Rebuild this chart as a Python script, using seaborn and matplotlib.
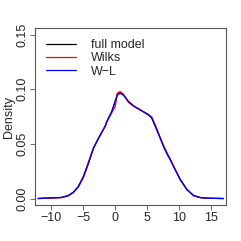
import pandas as pd
import matplotlib
matplotlib.use("Agg")
import matplotlib.pyplot as plt
import seaborn as sns

# density curves
x = [-12.0, -8.33, -7.3, -6.5, -5.73, -4.95, -4.17, -3.39, -2.6, -1.56, -1.3,
     -0.52, 0.0, 0.36, 0.78, 1.3, 2.08, 2.86, 3.9, 5.2, 5.73, 6.5, 7.03, 7.55,
     8.08, 8.6, 9.11, 10.16, 11.2, 12.23, 13.28, 14.3, 16.9]
full_model = [0.0, 0.001, 0.0027, 0.0058, 0.011, 0.020, 0.0325, 0.046, 0.055,
              0.066, 0.070, 0.0796, 0.0887, 0.0957, 0.0969, 0.0948, 0.0887,
              0.0848, 0.0811, 0.0766, 0.0735, 0.0629, 0.0553, 0.0477, 0.041,
              0.0356, 0.0294, 0.0173, 0.0082, 0.0027, 0.0009, 0.0003, 0.0]
wilks = [0.0, 0.0009, 0.0025, 0.0054, 0.0105, 0.019, 0.0315, 0.0455, 0.055,
         0.066, 0.070, 0.0785, 0.084, 0.0965, 0.0978, 0.0955, 0.088,
         0.0845, 0.0811, 0.0768, 0.0745, 0.064, 0.0558, 0.0485, 0.042,
         0.0362, 0.0296, 0.0173, 0.0082, 0.0027, 0.0009, 0.0003, 0.0]
w_l = [0.0, 0.001, 0.0027, 0.0058, 0.011, 0.020, 0.0325, 0.046, 0.055,
       0.066, 0.0705, 0.0796, 0.0887, 0.0945, 0.0962, 0.0945, 0.0887,
       0.0848, 0.0811, 0.0766, 0.0735, 0.0629, 0.0553, 0.0477, 0.041,
       0.0356, 0.0294, 0.0173, 0.0082, 0.0027, 0.0009, 0.0003, 0.0]

series = ["full model", "Wilks", "W\u2212L"]
colors = ["black", "red", "blue"]

df = pd.concat([
    pd.DataFrame({"x": x, "density": full_model, "model": series[0]}),
    pd.DataFrame({"x": x, "density": wilks, "model": series[1]}),
    pd.DataFrame({"x": x, "density": w_l, "model": series[2]}),
])

sns.set_style("white")
plt.rcParams["font.family"] = ["Liberation Sans", "DejaVu Sans"]

fig = plt.figure(figsize=(2.41, 2.41), dpi=100)
ax = fig.add_axes([0.145, 0.149, 0.793, 0.735])

sns.lineplot(data=df, x="x", y="density", hue="model", hue_order=series,
             palette=dict(zip(series, colors)), linewidth=0.9, ax=ax)

ax.set_xlim(-12.5, 17.3)
ax.set_ylim(-0.006, 0.156)
ax.set_xticks([-10, -5, 0, 5, 10, 15])
ax.set_xticklabels(["\u221210", "\u22125", "0", "5", "10", "15"])
ax.set_yticks([0.0, 0.05, 0.10, 0.15])
ax.set_yticklabels(["0.00", "0.05", "0.10", "0.15"], rotation=90, va="center")
ax.set_xlabel("")
ax.set_ylabel("Density", fontsize=9, labelpad=1)
ax.tick_params(axis="both", labelsize=9, length=3.5, width=0.6, color="#555555",
               direction="out", pad=1.5, bottom=True, left=True)
for s in ax.spines.values():
    s.set_color("#555555")
    s.set_linewidth(0.8)

ax.legend(frameon=False, loc="upper left", fontsize=9, handlelength=2.4,
          handletextpad=1.2, labelspacing=0.1, borderaxespad=0.5)

fig.savefig("out.png", dpi=100)
